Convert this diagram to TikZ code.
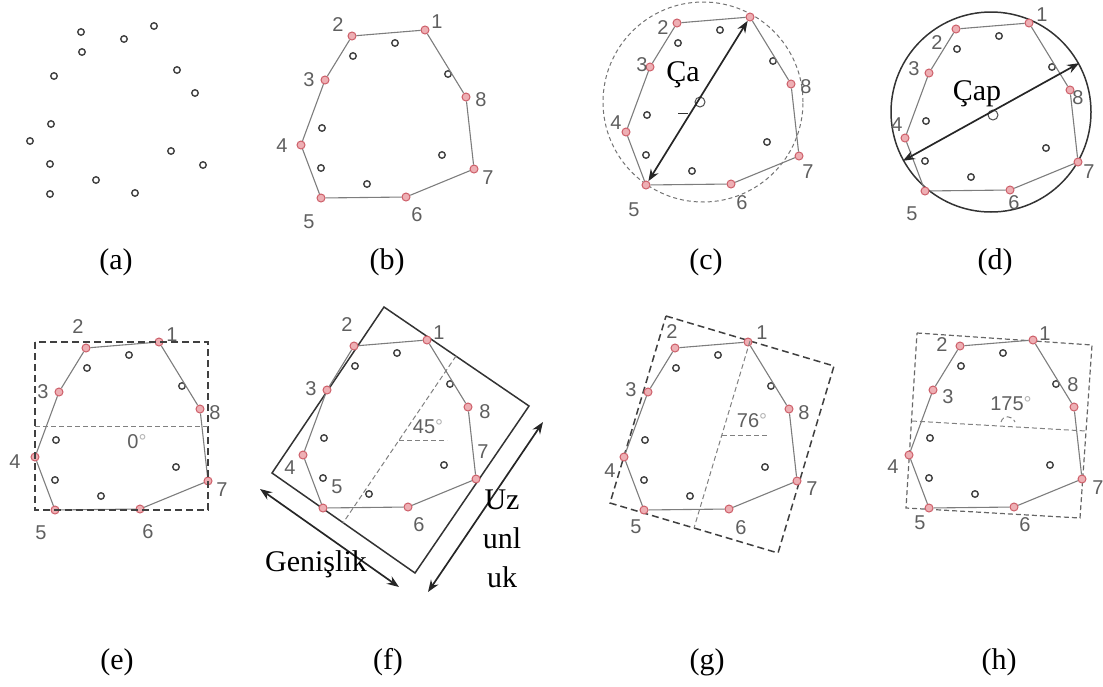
\documentclass[tikz,border=0pt]{standalone}
\usepackage{fontspec}
\setmainfont{Liberation Serif}
\setsansfont{Liberation Sans}
\usetikzlibrary{arrows.meta}

\definecolor{hullred}{RGB}{205,95,105}
\definecolor{hullfill}{RGB}{238,175,180}
\definecolor{edgegray}{RGB}{125,125,125}
\definecolor{lblgray}{RGB}{95,95,95}

\tikzset{
  cloudpt/.style={circle, draw=black!75, fill=white, line width=1.4pt, inner sep=0pt, minimum size=6.5pt},
  hullpt/.style={circle, draw=hullred, fill=hullfill, line width=1pt, inner sep=0pt, minimum size=8pt},
  hulledge/.style={draw=edgegray, line width=1.1pt},
  numlbl/.style={text=lblgray, font=\sffamily\fontsize{20}{20}\selectfont, inner sep=0pt},
  captext/.style={font=\fontsize{30}{30}\selectfont, inner sep=0pt},
  bigtxt/.style={font=\fontsize{30}{30}\selectfont, inner sep=0pt},
  dimarrow/.style={<->, line width=1.7pt, black!85},
  boxdash/.style={dash pattern=on 7pt off 4pt, line width=1.5pt, black!75},
  thindash/.style={dash pattern=on 5pt off 3pt, line width=1pt, black!50},
  markpt/.style={circle, draw=black!70, line width=1pt, inner sep=0pt, minimum size=10pt},
}

% the 15 points of one panel, hull points 1..8 and interior points i1..i7
\newcommand{\pointcloud}[4]{%
  \foreach \n/\px/\py in {1/124/0,2/51/6,3/24/50,4/0/115,5/20/168,6/105/167,7/173/139,8/165/67}
    \node[#4] (#1\n) at (#2+\px,#3+\py) {};
  \foreach \n/\px/\py in {1/94/13,2/52/26,3/147/44,4/21/98,5/20/138,6/66/154,7/141/125}
    \node[cloudpt] (#1i\n) at (#2+\px,#3+\py) {};
}
\newcommand{\hullpath}[1]{%
  \draw[hulledge] (#11) -- (#12) -- (#13) -- (#14) -- (#15) -- (#16) -- (#17) -- (#18) -- (#11);
}
\newcommand{\ptlabels}[2]{%
  \foreach \n/\lx/\ly in {#2}
    \node[numlbl] (#1l\n) at ([shift={(\lx,\ly)}]#1\n.center) {\n};
}

\begin{document}
\begin{tikzpicture}[x=1pt, y=-1pt, >={Stealth[length=12pt,width=9pt]}]
  \useasboundingbox (0,0) rectangle (1103,686);

  % (a)
  \pointcloud{a}{30}{26}{cloudpt}
  \node[captext] (capa) at (116,262) {(a)};

  % (b)
  \pointcloud{b}{301}{30}{hullpt}
  \hullpath{b}
  \ptlabels{b}{1/12/-8,2/-14/-11,3/-16/0,4/-19/1,5/-12/24,6/11/18,7/14/9,8/15/3}
  \node[captext] (capb) at (387,262) {(b)};

  % (c)
  \node[circle, draw=black!55, dash pattern=on 4pt off 3pt, line width=1pt, minimum size=200pt, inner sep=0pt] (ccirc) at (703,102) {};
  \pointcloud{c}{626}{17}{hullpt}
  \hullpath{c}
  \ptlabels{c}{2/-14/5,3/-8/-2,4/-10/-9,5/-12/25,6/11/19,7/9/16,8/15/3}
  \node[markpt] (cmark) at (700,102) {};
  \draw[dimarrow] (c5) -- (c1);
  \node[bigtxt] (cdia) at (683,75) {Ça};
  \draw[black!80, line width=1pt] (678,113) -- (688,113);
  \node[captext] (capc) at (706,262) {(c)};

  % (d)
  \node[circle, draw=black!80, line width=1.5pt, minimum size=200pt, inner sep=0pt] (dcirc) at (991,112) {};
  \pointcloud{d}{905}{23}{hullpt}
  \hullpath{d}
  \ptlabels{d}{1/13/-8,2/-19/14,3/-15/-4,4/-8/-13,5/-13/23,6/4/13,7/11/10,8/8/8}
  \node[markpt] (dmark) at (993,115) {};
  \draw[dimarrow] (dcirc.209) -- (dcirc.29);
  \node[bigtxt] (ddia) at (977,94) {Çap};
  \node[captext] (capd) at (995,262) {(d)};

  % (e)
  \pointcloud{e}{35}{342}{hullpt}
  \hullpath{e}
  \ptlabels{e}{1/13/-7,2/-8/-21,3/-16/0,4/-20/5,5/-14/23,6/8/23,7/14/9,8/15/4}
  \draw[boxdash] (e4.center |- e1.center) rectangle (e7.center |- e5.center);
  \draw[thindash] (35,426) -- (208,426);
  \node[numlbl] (eang) at (137,442) {0\textcolor{black!30}{°}};
  \node[captext] (cape) at (117,662) {(e)};

  % (f)
  \coordinate (fT) at (384,307);
  \coordinate (fR) at (529,406);
  \coordinate (fB) at (415,573);
  \coordinate (fL) at (272,473);
  \draw[line width=1.5pt, black!80] (fT) -- (fR) -- (fB) -- (fL) -- cycle;
  \pointcloud{f}{303}{340}{hullpt}
  \hullpath{f}
  \ptlabels{f}{1/12/-7,2/-7/-21,3/-16/-1,4/-13/13,5/14/-21,6/11/18,7/7/-27,8/17/5}
  \draw[thindash] (456,356) -- (343,523);
  \draw[thindash] (399,440) -- (447,440);
  \node[numlbl] (fang) at (428,427) {45\textcolor{black!30}{°}};
  \coordinate (gw1) at (260,489);
  \coordinate (gw2) at (399,587);
  \draw[dimarrow] (gw1) -- (gw2);
  \coordinate (ln1) at (543,422);
  \coordinate (ln2) at (428,592);
  \draw[dimarrow] (ln1) -- (ln2);
  \node[bigtxt] (fwid) at (316,564) {Genişlik};
  \node[bigtxt] (flen1) at (502,500) {Uz};
  \node[bigtxt] (flen2) at (502,538) {unl};
  \node[bigtxt] (flen3) at (502,577) {uk};
  \node[captext] (capf) at (388,662) {(f)};

  % (g)
  \coordinate (gTL) at (666,316);
  \coordinate (gTR) at (834,366);
  \coordinate (gBR) at (778,553);
  \coordinate (gBL) at (610,503);
  \draw[boxdash] (gTL) -- (gTR) -- (gBR) -- (gBL) -- cycle;
  \pointcloud{g}{624}{342}{hullpt}
  \hullpath{g}
  \ptlabels{g}{1/14/-9,2/-3/-16,3/-17/-2,4/-14/14,5/-8/17,6/12/19,7/15/8,8/15/4}
  \draw[thindash] (750,341) -- (694,528);
  \draw[thindash] (722,435) -- (768,435);
  \node[numlbl] (gang) at (752,421) {76\textcolor{black!30}{°}};
  \node[captext] (capg) at (707,662) {(g)};

  % (h)
  \coordinate (hTL) at (917,333);
  \coordinate (hTR) at (1092,345);
  \coordinate (hBR) at (1080,518);
  \coordinate (hBL) at (906,508);
  \draw[dash pattern=on 5pt off 3pt, line width=1.2pt, black!60] (hTL) -- (hTR) -- (hBR) -- (hBL) -- cycle;
  \pointcloud{h}{909}{340}{hullpt}
  \hullpath{h}
  \ptlabels{h}{1/12/-6,2/-18/-1,3/15/7,4/-16/12,5/-9/15,6/11/18,7/16/9,8/-1/-22}
  \draw[thindash] (912,421) -- (1086,431);
  \draw[thindash] (1001,422) .. controls (1003,415) and (1012,415) .. (1015,422);
  \node[numlbl] (hang) at (1011,404) {175\textcolor{black!30}{°}};
  \node[captext] (caph) at (999,662) {(h)};
\end{tikzpicture}
\end{document}
